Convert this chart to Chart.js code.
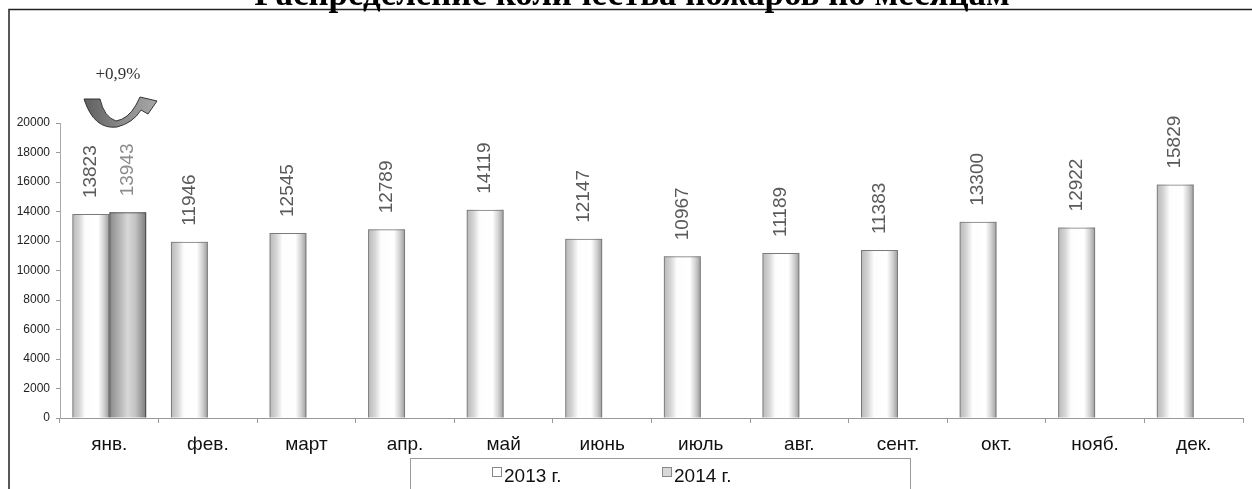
<!DOCTYPE html>
<html>
<head>
<meta charset="utf-8">
<script src="https://cdn.jsdelivr.net/npm/chart.js@4/dist/chart.umd.min.js"></script>
<style>
    html, body { margin: 0; padding: 0; background: #fff; }
    #wrap { width: 1252px; height: 489px; }
</style>
</head>
<body>
<div id="wrap"><canvas id="firesChart"></canvas></div>
<script>
const months = ['янв.', 'фев.', 'март', 'апр.', 'май', 'июнь', 'июль', 'авг.', 'сент.', 'окт.', 'нояб.', 'дек.'];
const fires2013 = [13823, 11946, 12545, 12789, 14119, 12147, 10967, 11189, 11383, 13300, 12922, 15829];
const fires2014 = [13943, null, null, null, null, null, null, null, null, null, null, null];
const seriesNames = ['2013 г.', '2014 г.'];
const chartTitle = 'Распределение количества пожаров по месяцам';
const changeNote = '+0,9%';

// "cylinder" look of the bars
const shade2013 = [[0, '#b8b8b8'], [0.18, '#d4d4d4'], [0.35, '#fdfdfd'], [0.7, '#ffffff'], [0.86, '#d0d0d0'], [1, '#9a9a9a']];
const shade2014 = [[0, '#8a8a8a'], [0.25, '#b0b0b0'], [0.5, '#d8d8d8'], [0.7, '#c4c4c4'], [1, '#7a7a7a']];
const labelColors = ['#5a5a5a', '#8c8c8c'];

Chart.defaults.font.family = '"Liberation Sans", Arial, sans-serif';

const barShading = {
    id: 'barShading',
    beforeDatasetsDraw(chart) {
        const c = chart.ctx;
        chart.data.datasets.forEach((ds, i) => {
            const meta = chart.getDatasetMeta(i);
            meta.data.forEach((bar, j) => {
                if (ds.data[j] == null || isNaN(bar.y)) return;
                const l = bar.x - bar.width / 2;
                const r = bar.x + bar.width / 2;
                const g = c.createLinearGradient(l, 0, r, 0);
                ds.shade.forEach(([p, col]) => g.addColorStop(p, col));
                c.fillStyle = g;
                c.fillRect(l, bar.y, r - l, bar.base - bar.y);
            });
        });
    },
    afterDatasetsDraw(chart) {
        const c = chart.ctx;
        c.save();
        c.font = '19px "Liberation Sans", Arial, sans-serif';
        c.textAlign = 'left';
        c.textBaseline = 'middle';
        chart.data.datasets.forEach((ds, i) => {
            const meta = chart.getDatasetMeta(i);
            meta.data.forEach((bar, j) => {
                if (ds.data[j] == null || isNaN(bar.y)) return;
                c.save();
                c.translate(bar.x, bar.y - 16);
                c.rotate(-Math.PI / 2);
                c.fillStyle = labelColors[i];
                c.fillText(String(ds.data[j]), 0, 0);
                c.restore();
            });
        });
        c.restore();
    }
};

const decorations = {
    id: 'decorations',
    afterDraw(chart) {
        const c = chart.ctx;
        c.save();

        // outer frame (top and left edges are visible)
        c.strokeStyle = '#222';
        c.lineWidth = 1.5;
        c.beginPath();
        c.moveTo(9, 489);
        c.lineTo(9, 9.5);
        c.lineTo(1252, 9.5);
        c.stroke();

        // title, cut off at the top like the scan
        c.fillStyle = '#000';
        c.font = 'bold 30px "Liberation Serif", "Times New Roman", serif';
        const w = c.measureText(chartTitle).width;
        const size = 30 * 755 / w;
        c.font = 'bold ' + size.toFixed(1) + 'px "Liberation Serif", "Times New Roman", serif';
        c.textAlign = 'center';
        c.textBaseline = 'alphabetic';
        c.fillText(chartTitle, 632, 5);

        // change note with curved arrow over January
        c.font = '17px "Liberation Serif", "Times New Roman", serif';
        c.fillStyle = '#333';
        c.fillText(changeNote, 118, 79);

        const g = c.createLinearGradient(84, 0, 158, 0);
        g.addColorStop(0, '#5e5e5e');
        g.addColorStop(0.5, '#8a8a8a');
        g.addColorStop(1, '#a8a8a8');
        c.fillStyle = g;
        c.strokeStyle = '#333';
        c.lineWidth = 1;
        c.beginPath();
        c.moveTo(84, 99);
        c.quadraticCurveTo(94, 130, 117, 127);
        c.quadraticCurveTo(133, 123, 141, 110);
        c.lineTo(148, 114);
        c.lineTo(157, 101);
        c.lineTo(140, 97);
        c.lineTo(136, 105);
        c.quadraticCurveTo(128, 119, 116, 121);
        c.quadraticCurveTo(104, 117, 100, 99);
        c.closePath();
        c.fill();
        c.stroke();

        // legend box
        c.strokeStyle = '#9a9a9a';
        c.lineWidth = 1;
        c.strokeRect(410.5, 458.5, 500, 40);
        c.font = '19px "Liberation Sans", Arial, sans-serif';
        c.textAlign = 'left';
        c.textBaseline = 'alphabetic';
        const items = [[492, shade2013[3][1]], [662, shade2014[2][1]]];
        items.forEach(([x, col], k) => {
            c.fillStyle = col;
            c.fillRect(x + 0.5, 467.5, 9, 9);
            c.strokeStyle = '#888';
            c.strokeRect(x + 0.5, 467.5, 9, 9);
            c.fillStyle = '#111';
            c.fillText(seriesNames[k], x + 12, 482);
        });

        c.restore();
    }
};

new Chart(document.getElementById('firesChart'), {
    type: 'bar',
    data: {
        labels: months,
        datasets: [{
            label: seriesNames[0],
            data: fires2013,
            shade: shade2013,
            backgroundColor: 'rgba(0,0,0,0)',
            borderColor: '#7a7a7a',
            borderWidth: 1,
            categoryPercentage: 0.75,
            barPercentage: 1
        }, {
            label: seriesNames[1],
            data: fires2014,
            shade: shade2014,
            backgroundColor: 'rgba(0,0,0,0)',
            borderColor: '#444',
            borderWidth: 1,
            categoryPercentage: 0.75,
            barPercentage: 1
        }]
    },
    options: {
        responsive: true,
        maintainAspectRatio: false,
        animation: false,
        layout: {
            padding: { top: 123, right: 9, left: 0, bottom: 0 }
        },
        plugins: {
            legend: { display: false },
            tooltip: { enabled: false }
        },
        scales: {
            x: {
                afterFit(scale) { scale.height = 71; },
                grid: {
                    offset: true,
                    drawOnChartArea: false,
                    drawTicks: true,
                    tickLength: 5,
                    color: '#999'
                },
                border: { color: '#999' },
                ticks: {
                    color: '#111',
                    padding: 10,
                    font: { size: 19 }
                }
            },
            y: {
                min: 0,
                max: 20000,
                afterFit(scale) { scale.width = 60; },
                grid: {
                    drawOnChartArea: false,
                    drawTicks: true,
                    tickLength: 4,
                    color: '#999'
                },
                border: { color: '#aaa', dash: [2, 2] },
                ticks: {
                    stepSize: 2000,
                    color: '#222',
                    padding: 6,
                    font: { size: 12 },
                    callback: (v) => String(v)
                }
            }
        }
    },
    plugins: [barShading, decorations]
});
</script>
</body>
</html>
